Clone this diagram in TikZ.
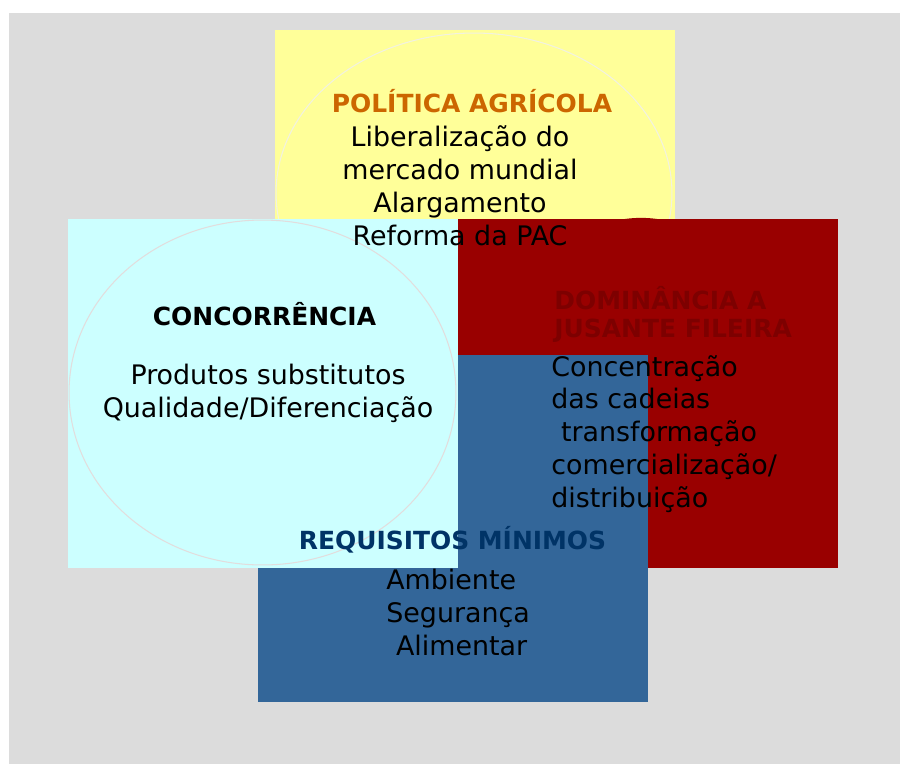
\documentclass[tikz,border=0pt]{standalone}
\usepackage{fontspec}
\setmainfont{DejaVu Sans}
\usetikzlibrary{shapes.geometric}
\definecolor{bggray}{HTML}{DCDCDC}
\definecolor{polyellow}{HTML}{FFFF99}
\definecolor{concyan}{HTML}{CCFFFF}
\definecolor{domred}{HTML}{990000}
\definecolor{reqblue}{HTML}{336699}
\definecolor{polorange}{HTML}{CC6600}
\definecolor{domdark}{HTML}{7D0000}
\definecolor{reqdark}{HTML}{003366}

\begin{document}
\begin{tikzpicture}[x=0.02cm, y=-0.02cm,
  blk/.style={rectangle, inner sep=0pt, anchor=north west},
  rim/.style={ellipse, inner sep=0pt, line width=0.6pt},
  ttl/.style={inner sep=0pt, font=\fontsize{14.2}{15.9}\selectfont\bfseries},
  txt/.style={inner sep=0pt, font=\fontsize{15.3}{18.6}\selectfont}
]
\useasboundingbox (0,0) rectangle (900,764);
% background
\node[blk, fill=bggray, minimum width=17.82cm, minimum height=15.02cm] (bg) at (9,13) {};
% the four blocks
\node[blk, fill=polyellow, minimum width=8cm, minimum height=3.78cm] (pol) at (275,30) {};
\node[rim, draw=white!80!polyellow!90!gray, minimum width=7.92cm, minimum height=6.4cm] (polrim) at (474,193) {};
\node[blk, fill=domred, minimum width=7.6cm, minimum height=6.98cm] (dom) at (458,219) {};
\node[rim, fill=domred, minimum width=5.7cm, minimum height=6.99cm] (domrim) at (641,392.6) {};
\node[blk, fill=reqblue, minimum width=7.8cm, minimum height=6.94cm] (req) at (258,355) {};
\node[blk, fill=concyan, minimum width=7.8cm, minimum height=6.98cm] (con) at (68,219) {};
\node[rim, draw=red!8!gray!25, minimum width=7.74cm, minimum height=6.9cm] (conrim) at (262.5,392.5) {};

% texts (multi-line nodes sit on their last baseline)
\node[ttl, text=polorange, anchor=base] (poltitle) at (472,112) {POLÍTICA AGRÍCOLA};
\node[txt, align=center, anchor=base] (poltext) at (460,245)
  {Liberalização do\\mercado mundial\\Alargamento\\Reforma da PAC};
\node[ttl, anchor=base] (contitle) at (264.5,325) {CONCORRÊNCIA};
\node[txt, align=center, anchor=base] (context) at (268,417)
  {Produtos substitutos\\Qualidade/Diferenciação};
\node[ttl, text=domdark, align=left, anchor=base west] (domtitle) at (554,337)
  {DOMINÂNCIA A\\JUSANTE FILEIRA};
\node[txt, align=left, anchor=base west] (domtext) at (551,507)
  {Concentração\\das cadeias\\\hspace*{5.5pt}transformação\\comercialização/\\distribuição};
\node[ttl, text=reqdark, anchor=base] (reqtitle) at (452.5,549) {REQUISITOS MÍNIMOS};
\node[txt, align=left, anchor=base west] (reqtext) at (386,655)
  {Ambiente\\Segurança\\\hspace*{5.5pt}Alimentar};
\end{tikzpicture}
\end{document}
